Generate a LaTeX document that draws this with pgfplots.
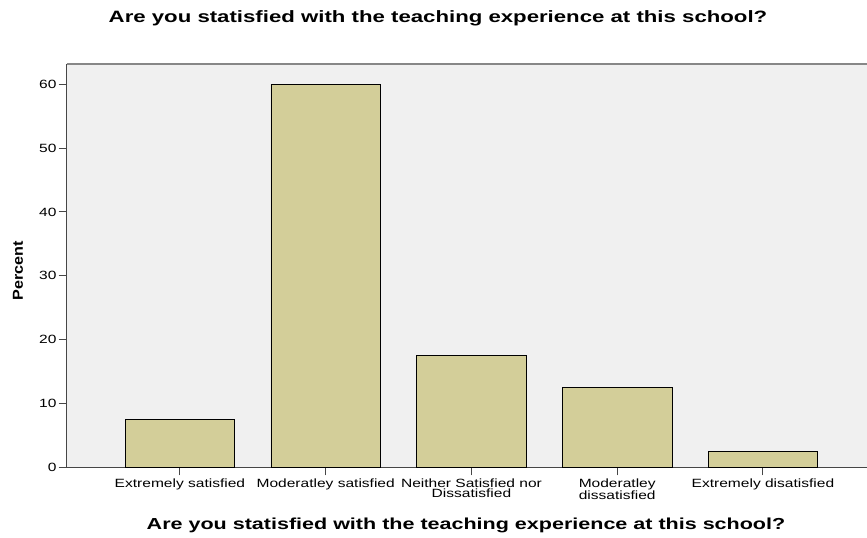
\documentclass[border=0pt]{standalone}
\usepackage{pgfplots}
\pgfplotsset{compat=1.18}
\usepackage{fontspec}
\setmainfont[FakeStretch=1.3]{Liberation Sans}
\newfontfamily\titlefont[FakeStretch=1.35]{Liberation Sans}
\newfontfamily\ylabfont[FakeStretch=1.12]{Liberation Sans}
\definecolor{barfill}{RGB}{211,206,153}
\definecolor{bg}{RGB}{240,240,240}
\definecolor{axline}{RGB}{70,70,70}
\definecolor{topline}{RGB}{135,135,135}
\begin{document}
\begin{tikzpicture}[x=1bp,y=1bp]
\useasboundingbox (0,0) rectangle (867,538);
\begin{axis}[
  at={(66.7bp,70.7bp)}, anchor=south west,
  scale only axis, width=800.3bp, height=403.3bp,
  xmin=-0.777, xmax=4.714, ymin=0, ymax=63.18,
  axis x line*=bottom, axis y line*=left,
  axis line style={axline, line width=1.5pt},
  axis background/.style={fill=bg},
  xtick={0,1,2,3,4},
  xticklabels={Extremely satisfied, Moderatley satisfied, {Neither Satisfied nor\\Dissatisfied}, {Moderatley\\dissatisfied}, Extremely disatisfied},
  xticklabel style={align=center, font=\fontsize{12}{10.5}\selectfont, inner sep=0pt, yshift=-3bp},
  ytick={0,10,20,30,40,50,60},
  yticklabel style={font=\fontsize{12}{12}\selectfont, inner sep=0pt, xshift=-2bp},
  /pgf/number format/assume math mode=true,
  tick style={axline, line width=1pt},
  tick align=outside, major tick length=8bp,
  ybar, bar width=109.5bp,
  clip=false,
]
\addplot[fill=barfill, draw=black, line width=0.9pt] coordinates {(0,7.5) (1,60) (2,17.5) (3,12.5) (4,2.5)};
\draw[topline, line width=1.6pt] (rel axis cs:0,1) -- (rel axis cs:1,1);
\end{axis}
\node[font=\titlefont\bfseries\fontsize{16.5}{16.5}\selectfont] at (438,520) {Are you statisfied with the teaching experience at this school?};
\node[font=\titlefont\bfseries\fontsize{16}{16}\selectfont] at (466,13) {Are you statisfied with the teaching experience at this school?};
\node[font=\ylabfont\bfseries\fontsize{14.5}{14.5}\selectfont, rotate=90] at (18,267) {Percent};
\end{tikzpicture}
\end{document}
